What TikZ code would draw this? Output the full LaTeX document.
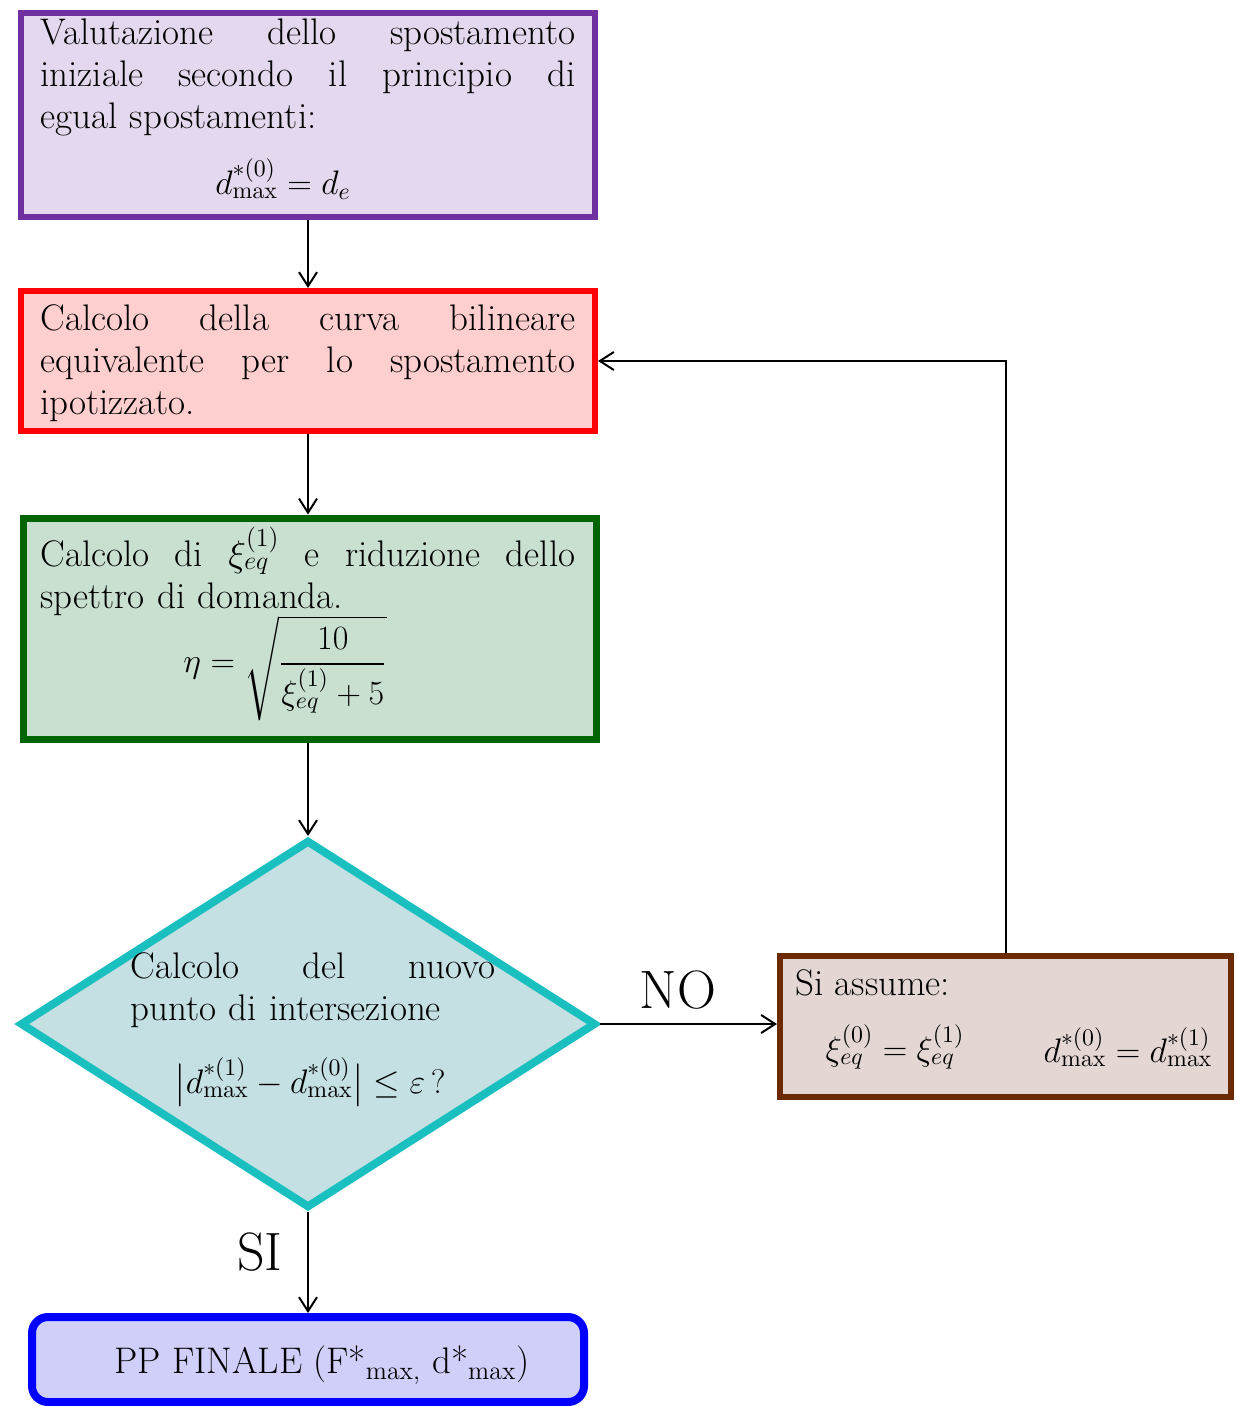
\documentclass[tikz,border=0pt]{standalone}
\usepackage{amsmath}
\usepackage{fix-cm}
\usetikzlibrary{shapes.geometric,arrows.meta}
\definecolor{purpleB}{HTML}{7030A0}
\definecolor{purpleF}{HTML}{E4D8EE}
\definecolor{redB}{HTML}{FF0000}
\definecolor{redF}{HTML}{FFCFCF}
\definecolor{greenB}{HTML}{006400}
\definecolor{greenF}{HTML}{C9E0D1}
\definecolor{cyanB}{HTML}{1ABFBF}
\definecolor{cyanF}{HTML}{C4E0E2}
\definecolor{brownB}{HTML}{6B2A00}
\definecolor{brownF}{HTML}{E4D6D3}
\definecolor{blueB}{HTML}{0000FF}
\definecolor{blueF}{HTML}{CFCFFA}
\begin{document}
\begin{tikzpicture}[x=0.5pt,y=-0.5pt,
  box/.style={draw, rectangle, inner sep=0pt, line width=3pt},
  txt/.style={font=\fontsize{18.5}{21}\selectfont, inner sep=0pt, align=left, anchor=base west},
  formula/.style={font=\fontsize{17}{21}\selectfont, inner sep=0pt},
  big/.style={font=\fontsize{27}{30}\selectfont, inner sep=0pt},
  conn/.style={line width=1pt, -{Straight Barb[length=7pt,width=9pt]}}]
\clip (0,0) rectangle (1236,1406);
\fill[white] (0,0) rectangle (1236,1406);

% boxes
\node[box, draw=purpleB, fill=purpleF, minimum width=287pt, minimum height=102pt] (b1) at (308,115) {};
\node[box, draw=redB, fill=redF, minimum width=287pt, minimum height=70pt] (b2) at (308,361) {};
\node[box, draw=greenB, fill=greenF, line width=3.5pt, minimum width=286.5pt, minimum height=110.5pt] (b3) at (309.5,628.5) {};
\node[draw=cyanB, fill=cyanF, shape=diamond, line width=4pt, inner sep=0pt, minimum width=288pt, minimum height=184pt] (dec) at (308,1024) {};
\node[box, draw=brownB, fill=brownF, minimum width=225.5pt, minimum height=70.5pt] (b4) at (1005.5,1026.5) {};
\node[box, draw=blueB, fill=blueF, line width=4pt, rounded corners=8pt, minimum width=276pt, minimum height=42.5pt] (b5) at (308,1359.5) {};

% texts
\node[txt, text width=267.5pt] (t1) at (40,45) {Valutazione\hfill dello\hfill spostamento\\ iniziale\hfill secondo\hfill il\hfill principio\hfill di\\ egual spostamenti:};
\node[formula] (f1) at (283,179) {$d^{*(0)}_{\mathrm{max}} = d_e$};

\node[txt, text width=267.5pt] (t2) at (40,331) {Calcolo\hfill della\hfill curva\hfill bilineare\\ equivalente\hfill per\hfill lo\hfill spostamento\\ ipotizzato.};

\node[txt, text width=267.5pt] (t3) at (40,566) {Calcolo\hfill di\hfill $\xi^{(1)}_{eq}$\hfill e\hfill riduzione\hfill dello\\ spettro di domanda.};
\node[formula] (f3) at (285,668) {$\eta = \sqrt{\dfrac{10}{\xi^{(1)}_{eq}+5}}$};

\node[txt, text width=182.5pt] (t4) at (130,978) {Calcolo\hfill del\hfill nuovo\\ punto di intersezione};
\node[formula] (f4) at (310,1082) {$\bigl|d^{*(1)}_{\mathrm{max}} - d^{*(0)}_{\mathrm{max}}\bigr| \le \varepsilon\,?$};

\node[txt] (t5) at (795,995) {Si assume:};
\node[formula] (f5a) at (895,1047) {$\xi^{(0)}_{eq} = \xi^{(1)}_{eq}$};
\node[formula] (f5b) at (1128,1047) {$d^{*(0)}_{\mathrm{max}} = d^{*(1)}_{\mathrm{max}}$};

\node[formula, font=\fontsize{18.5}{21}\selectfont] (t6) at (322,1365) {PP FINALE (F*\textsubscript{max,} d*\textsubscript{max})};

\node[big] (no) at (678,990) {NO};
\node[big] (si) at (260,1252) {SI};

% connectors
\draw[conn] (b1.south) -- (b2.north);
\draw[conn] (b2.south) -- (b2.south |- b3.north);
\draw[conn] (b3.south -| dec.north) -- (dec.north);
\draw[conn] (dec.east) -- (dec.east -| b4.west);
\draw[conn] (b4.north) |- (b2.east);
\draw[conn] (dec.south) -- (b5.north);
\end{tikzpicture}
\end{document}
